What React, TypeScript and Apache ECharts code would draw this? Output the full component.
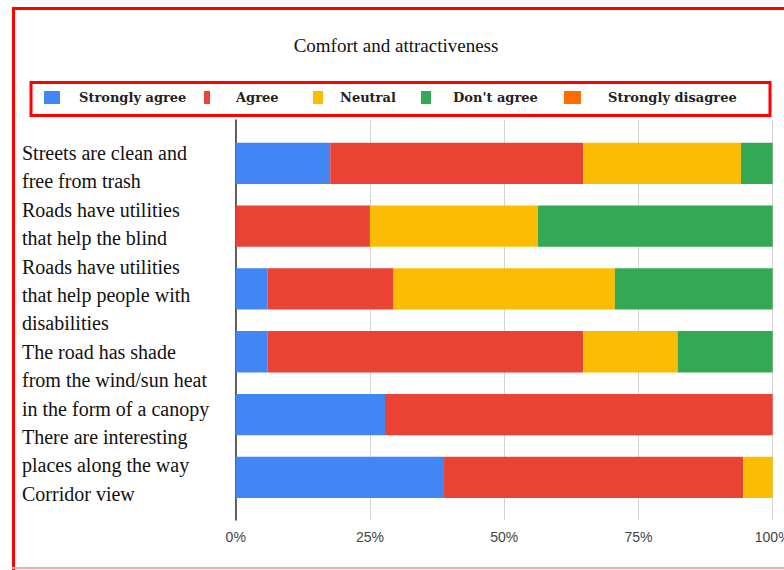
import React, { useEffect, useRef } from "react";
import * as echarts from "echarts";

const titleText = "Comfort and attractiveness";
const categories = [
  "Streets are clean and\nfree from trash",
  "Roads have utilities\nthat help the blind",
  "Roads have utilities\nthat help people with\ndisabilities",
  "The road has shade\nfrom the wind/sun heat\nin the form of a canopy",
  "There are interesting\nplaces along the way",
  "Corridor view",
];
const seriesNames = ["Strongly agree", "Agree", "Neutral", "Don't agree", "Strongly disagree"];
const stronglyAgree = [17.6, 0, 5.9, 5.9, 27.8, 38.8];
const agree = [47.1, 25.0, 23.5, 58.8, 72.2, 55.7];
const neutral = [29.4, 31.3, 41.2, 17.6, 0, 5.5];
const dontAgree = [5.9, 43.7, 29.4, 17.7, 0, 0];
const stronglyDisagree = [0, 0, 0, 0, 0, 0];
const xTicks = { min: 0, max: 100, interval: 25 };
const colors = ["#4285F4", "#EA4335", "#FBBC04", "#34A853", "#FF6D01"];

const seriesValues = [stronglyAgree, agree, neutral, dontAgree, stronglyDisagree];

// legend item layout (icon left, icon width, gap icon->text)
const legendLayout = [
  { x: 44, w: 16, gap: 19 },
  { x: 204, w: 6, gap: 26 },
  { x: 313, w: 10, gap: 17 },
  { x: 421, w: 10, gap: 22 },
  { x: 564, w: 17, gap: 27 },
];

export default function App() {
  const ref = useRef<HTMLDivElement>(null);
  useEffect(() => {
    if (!ref.current) return;
    const chart = echarts.init(ref.current, null, { renderer: "svg" });

    const plotLeft = 235.7;
    const plotWidth = 537;
    const lineH = 28.4;
    let lineIdx = 0;
    const labelEls: any[] = categories.map((c) => {
      const n = c.split("\n").length;
      const el = {
        type: "text",
        x: 22,
        y: 138.8 + lineIdx * lineH,
        style: {
          text: c,
          fontFamily: "Liberation Serif",
          fontSize: 20,
          lineHeight: lineH,
          fill: "#111",
          verticalAlign: "top",
          align: "left",
        },
      };
      lineIdx += n;
      return el;
    });

    const option: any = {
      animation: false,
      backgroundColor: "#fff",
      legend: seriesNames.map((name, i) => ({
        data: [name],
        left: legendLayout[i].x,
        top: 91,
        padding: 0,
        icon: "rect",
        itemWidth: legendLayout[i].w,
        itemHeight: 13,
        selectedMode: false,
        textStyle: {
          fontFamily: "DejaVu Serif",
          fontWeight: "bold",
          fontSize: 13,
          color: "#222",
          padding: [0, 0, 0, legendLayout[i].gap - 5],
        },
      })),
      grid: [
        { left: plotLeft, width: plotWidth, top: 120, height: 400, outerBoundsMode: "none", containLabel: false },
        { left: plotLeft, width: plotWidth, top: 132, height: 376.7, outerBoundsMode: "none", containLabel: false },
      ],
      xAxis: [
        {
          gridIndex: 0,
          type: "value",
          min: xTicks.min,
          max: xTicks.max,
          interval: xTicks.interval,
          axisLine: { show: false },
          axisTick: { show: false },
          splitLine: { show: true, lineStyle: { color: "#d3d3d3", width: 1 } },
          axisLabel: {
            formatter: "{value}%",
            color: "#444",
            fontFamily: "Liberation Sans",
            fontSize: 14,
            margin: 10,
          },
        },
        {
          gridIndex: 1,
          type: "value",
          min: xTicks.min,
          max: xTicks.max,
          show: false,
        },
      ],
      yAxis: [
        {
          gridIndex: 0,
          type: "value",
          min: 0,
          max: 1,
          axisLine: { show: true, lineStyle: { color: "#333", width: 1.5 } },
          axisTick: { show: false },
          axisLabel: { show: false },
          splitLine: { show: false },
        },
        {
          gridIndex: 1,
          type: "category",
          inverse: true,
          data: categories,
          show: false,
        },
      ],
      series: seriesNames.map((name, i) => ({
        name,
        type: "bar",
        stack: "total",
        xAxisIndex: 1,
        yAxisIndex: 1,
        barWidth: 41.3,
        itemStyle: { color: colors[i] },
        data: seriesValues[i],
      })),
      graphic: [
        { type: "rect", shape: { x: 12, y: 7, width: 790, height: 3 }, style: { fill: "#ff0000" } },
        { type: "rect", shape: { x: 12, y: 7, width: 3, height: 563 }, style: { fill: "#ff0000" } },
        { type: "rect", shape: { x: 12, y: 567, width: 790, height: 2 }, style: { fill: "#f6a9a9" } },
        {
          type: "rect",
          shape: { x: 31, y: 82.5, width: 739, height: 33 },
          style: { fill: "none", stroke: "#ff0000", lineWidth: 3 },
        },
        {
          type: "text",
          x: 396,
          y: 45,
          style: {
            text: titleText,
            fontFamily: "Liberation Serif",
            fontSize: 19,
            fill: "#111",
            align: "center",
            verticalAlign: "middle",
          },
        },
        ...labelEls,
      ],
    };
    chart.setOption(option);
    return () => chart.dispose();
  }, []);
  return (
    <div
      ref={ref}
      style={{ position: "fixed", left: 0, top: 0, width: 784, height: 570 }}
    />
  );
}
